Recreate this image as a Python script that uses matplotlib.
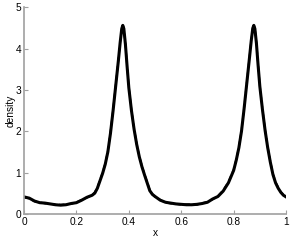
import matplotlib
matplotlib.use("Agg")
import matplotlib.pyplot as plt

# valores
x_vals = [0.0, 0.02, 0.04, 0.06, 0.08, 0.10, 0.12, 0.14, 0.16, 0.18, 0.20, 0.22,
          0.24, 0.26, 0.27, 0.28, 0.29, 0.30, 0.31, 0.32, 0.33, 0.34, 0.35, 0.36,
          0.367, 0.373, 0.377, 0.381, 0.387, 0.393, 0.40, 0.41, 0.42, 0.43, 0.44,
          0.45, 0.46, 0.47, 0.48, 0.49, 0.50, 0.52, 0.54, 0.56, 0.58, 0.60, 0.62,
          0.64, 0.66, 0.68, 0.70, 0.72, 0.74, 0.76, 0.78, 0.80, 0.81, 0.82, 0.83,
          0.84, 0.85, 0.86, 0.867, 0.873, 0.877, 0.881, 0.887, 0.893, 0.90, 0.91,
          0.92, 0.93, 0.94, 0.95, 0.96, 0.97, 0.98, 0.99, 1.0]
dens_sol = [0.41, 0.38, 0.31, 0.27, 0.26, 0.24, 0.22, 0.21, 0.22, 0.25, 0.27, 0.33,
            0.40, 0.45, 0.50, 0.62, 0.80, 0.98, 1.20, 1.50, 1.95, 2.50, 3.10, 3.70,
            4.15, 4.48, 4.56, 4.48, 4.10, 3.60, 3.05, 2.50, 2.05, 1.68, 1.38,
            1.14, 0.94, 0.75, 0.56, 0.47, 0.42, 0.33, 0.28, 0.26, 0.24, 0.23, 0.22,
            0.22, 0.23, 0.25, 0.28, 0.36, 0.42, 0.55, 0.75, 1.05, 1.30, 1.60, 2.00,
            2.55, 3.15, 3.75, 4.18, 4.49, 4.56, 4.48, 4.12, 3.62, 3.08, 2.52,
            2.02, 1.60, 1.25, 0.95, 0.75, 0.62, 0.52, 0.45, 0.41]
dens_dash = [0.40, 0.37, 0.30, 0.28, 0.25, 0.24, 0.23, 0.22, 0.23, 0.24, 0.28, 0.34,
             0.39, 0.46, 0.52, 0.64, 0.82, 1.00, 1.22, 1.52, 1.98, 2.52, 3.12, 3.72,
             4.16, 4.47, 4.55, 4.49, 4.12, 3.62, 3.07, 2.52, 2.07, 1.70, 1.40,
             1.16, 0.96, 0.77, 0.58, 0.48, 0.41, 0.34, 0.27, 0.25, 0.24, 0.22, 0.23,
             0.23, 0.22, 0.26, 0.29, 0.35, 0.43, 0.57, 0.77, 1.07, 1.32, 1.62, 2.02,
             2.57, 3.17, 3.77, 4.19, 4.48, 4.55, 4.49, 4.14, 3.64, 3.10, 2.54,
             2.04, 1.62, 1.27, 0.97, 0.77, 0.64, 0.53, 0.46, 0.40]

plt.rcParams['font.family'] = ['Liberation Sans', 'DejaVu Sans']

fig = plt.figure(figsize=(2.91, 2.40), dpi=100)
ax = fig.add_axes([0.0825, 0.109, 0.9005, 0.861])
ax.plot(x_vals, dens_sol, color='black', linewidth=2.2)
ax.plot(x_vals, dens_dash, color='black', linewidth=1.3, linestyle=(0, (3, 2)))
ax.set_xlim(0, 1)
ax.set_ylim(0, 5)
ax.set_xticks([0, 0.2, 0.4, 0.6, 0.8, 1])
ax.set_xticklabels(['0', '0.2', '0.4', '0.6', '0.8', '1'])
ax.set_yticks([0, 1, 2, 3, 4, 5])
for s in ['top', 'right']:
    ax.spines[s].set_visible(False)
for s in ['left', 'bottom']:
    ax.spines[s].set_color('#a0a0a0')
    ax.spines[s].set_linewidth(1.2)
ax.tick_params(direction='in', length=3, width=0.8, color='#a0a0a0',
               labelsize=7.3, pad=2, labelcolor='black')
ax.set_xlabel('x', fontsize=7.3, labelpad=1)
ax.set_ylabel('density', fontsize=7.3, labelpad=0)
fig.savefig('out.png', dpi=100)
